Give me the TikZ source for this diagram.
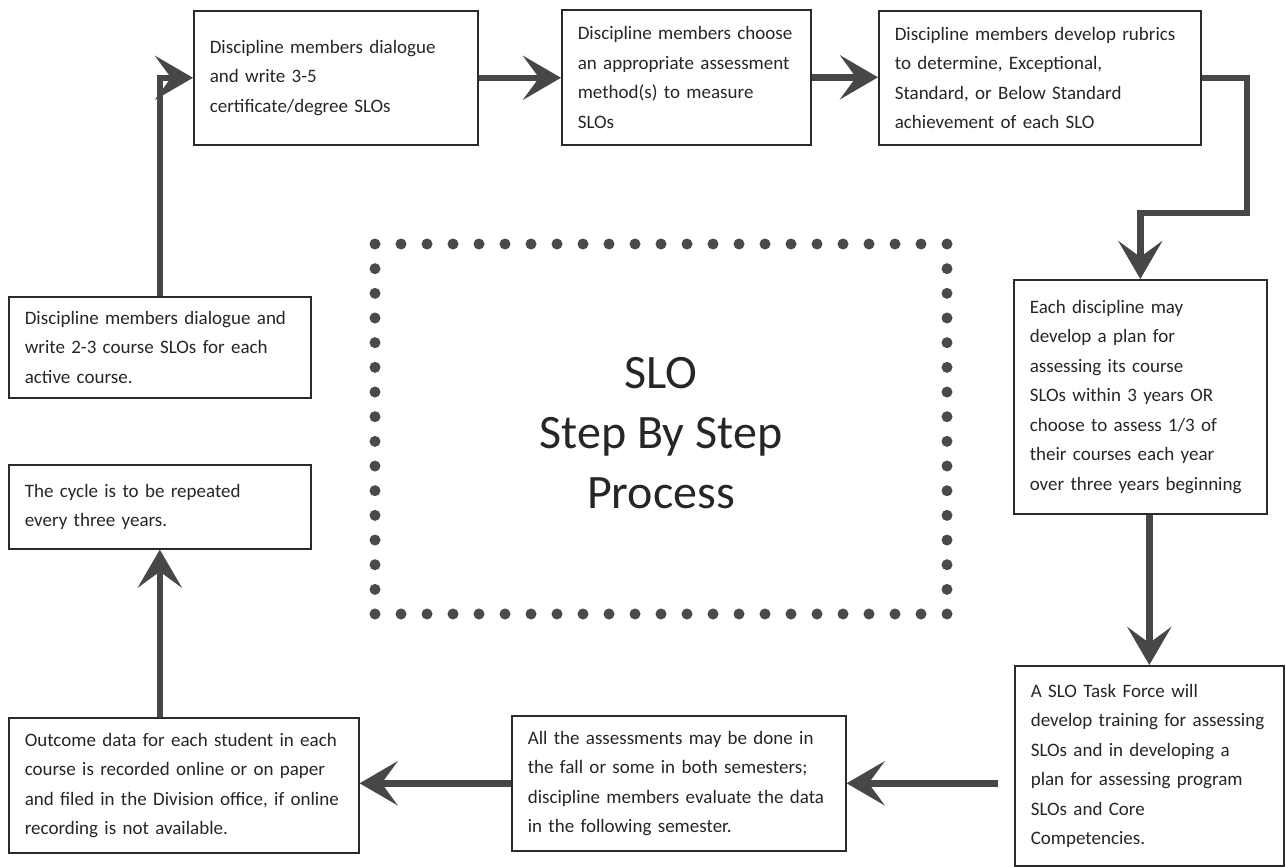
\documentclass[tikz,border=0pt]{standalone}
\usepackage{fontspec}
\setmainfont{Carlito}
\usetikzlibrary{arrows.meta,calc,positioning}
\definecolor{boxline}{HTML}{2B2B2B}
\definecolor{flowgray}{HTML}{474747}
\definecolor{dotgray}{HTML}{4A4A4A}
\tikzset{
  stepbox/.style={draw=boxline, line width=1.6pt, fill=white, anchor=north west,
    align=left, inner xsep=16pt, inner ysep=0pt, text=black!85,
    font=\fontsize{19}{29.5}\selectfont},
  flow/.style={draw=flowgray, line width=6.5pt,
    -{Stealth[length=38pt,width=44pt,inset=16pt]}},
  dot/.style={fill=dotgray}
}

\begin{document}
\begin{tikzpicture}[x=1pt,y=-1pt]
  \useasboundingbox (0,0) rectangle (1286,867);

  \foreach \i in {0,...,22} {
    \fill[dot] (375+\i*26,244) circle (5.5);
    \fill[dot] (375+\i*26,614) circle (5.5);
  }
  \foreach \j in {1,...,14} {
    \fill[dot] (375,244+\j*24.67) circle (5.5);
    \fill[dot] (947,244+\j*24.67) circle (5.5);
  }
  \node[align=center, text=black!85, font=\fontsize{48}{60}\selectfont] (title) at (661,433) {SLO\\Step By Step\\Process};

  \node[stepbox, text width=252, minimum height=134] (cert) at (193,10)
    {Discipline members dialogue\\and write 3-5\\certificate/degree SLOs};
  \node[stepbox, text width=217, minimum height=135] (choose) at (561,9)
    {Discipline members choose\\an appropriate assessment\\method(s) to measure\\SLOs};
  \node[stepbox, text width=290, minimum height=134] (rubric) at (878,10)
    {Discipline members develop rubrics\\to determine, Exceptional,\\Standard, or Below Standard\\achievement of each SLO};
  \node[stepbox, text width=221, minimum height=234] (plan) at (1013,279)
    {Each discipline may\\develop a plan for\\assessing its course\\SLOs within 3 years OR\\choose to assess 1/3 of\\their courses each year\\over three years beginning};
  \node[stepbox, text width=237, minimum height=200] (task) at (1014,665)
    {A SLO Task Force will\\develop training for assessing\\SLOs and in developing a\\plan for assessing program\\SLOs and Core\\Competencies.};
  \node[stepbox, text width=302, minimum height=135] (assess) at (511,715)
    {All the assessments may be done in\\the fall or some in both semesters;\\discipline members evaluate the data\\in the following semester.};
  \node[stepbox, text width=318, minimum height=135] (outcome) at (8,717)
    {Outcome data for each student in each\\course is recorded online or on paper\\and filed in the Division office, if online\\recording is not available.};
  \node[stepbox, text width=270, minimum height=84] (cycle) at (8,464)
    {The cycle is to be repeated\\every three years.};
  \node[stepbox, text width=270, minimum height=101] (course) at (8,296)
    {Discipline members dialogue and\\write 2-3 course SLOs for each\\active course.};

  \coordinate (bend) at (1247,213);
  \draw[flow] (course.north) |- (cert.west);
  \draw[flow] (cert.east) -- (cert.east -| choose.west);
  \draw[flow] (choose.east) -- (choose.east -| rubric.west);
  \draw[flow] (rubric.east) -| (bend) -| (plan.north);
  \draw[flow] (plan.south -| task.north) -- (task.north);
  \draw[flow, shorten <=16pt] (task.west |- assess.east) -- (assess.east);
  \draw[flow] (assess.west) -- (assess.west -| outcome.east);
  \draw[flow] (outcome.north -| cycle.south) -- (cycle.south);
\end{tikzpicture}
\end{document}
